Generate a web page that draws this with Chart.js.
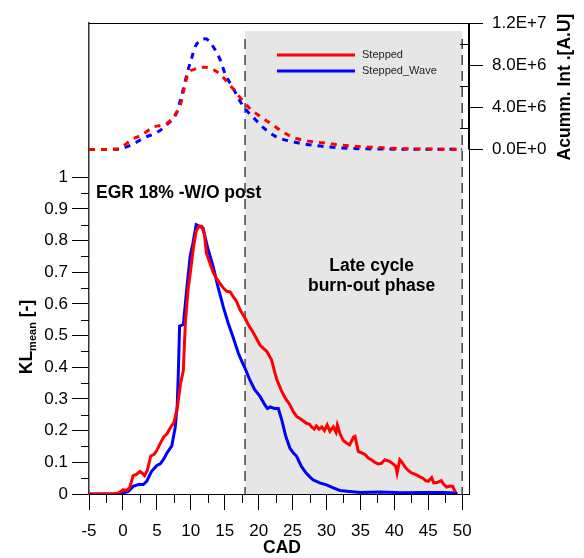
<!DOCTYPE html>
<html>
<head>
<meta charset="utf-8">
<script src="https://cdn.jsdelivr.net/npm/chart.js@4.4.1/dist/chart.umd.min.js"></script>
<style>
  body { margin: 0; background: #fff; }
  #wrap { width: 584px; height: 558px; }
</style>
</head>
<body>
<div id="wrap"><canvas id="chartKL"></canvas></div>
<script>
// KL mean (bottom panel)
const cadRed = [-5, -1, -0.5, 0, 0.6, 1, 1.5, 2, 2.5, 2.9, 3.2, 3.6, 4.1, 4.6, 5, 5.5, 6, 6.5, 7, 7.5, 8, 8.5, 8.9, 9.2, 9.6, 10, 10.4, 10.8, 11.2, 11.6, 12, 12.3, 12.8, 13.3, 13.8, 14.3, 14.8, 15.3, 15.8, 16.2, 16.7, 17.3, 18, 18.6, 19.2, 19.7, 20.2, 20.7, 21.2, 21.9, 22.3, 22.7, 23.4, 24, 24.6, 25.1, 25.6, 26.3, 27, 27.5, 27.8, 28.2, 28.5, 28.9, 29.3, 29.7, 30.1, 30.5, 31, 31.4, 31.6, 32, 32.5, 33, 33.4, 34, 34.2, 34.7, 35.2, 35.7, 36.2, 36.6, 37.1, 37.6, 38.1, 38.6, 39.3, 39.8, 40.2, 40.4, 40.8, 41.2, 41.5, 42, 42.5, 43.1, 43.7, 44.2, 44.6, 45, 45.5, 45.8, 46.3, 46.9, 47.3, 47.7, 48.2, 48.6, 49];
const klRed = [0, 0, 0.005, 0.013, 0.012, 0.02, 0.058, 0.062, 0.071, 0.065, 0.058, 0.075, 0.12, 0.125, 0.138, 0.16, 0.18, 0.19, 0.21, 0.225, 0.27, 0.35, 0.39, 0.54, 0.645, 0.71, 0.78, 0.83, 0.845, 0.845, 0.82, 0.76, 0.73, 0.7, 0.68, 0.665, 0.65, 0.64, 0.638, 0.625, 0.61, 0.58, 0.555, 0.53, 0.51, 0.49, 0.47, 0.46, 0.45, 0.424, 0.39, 0.36, 0.324, 0.3, 0.282, 0.26, 0.245, 0.235, 0.224, 0.22, 0.212, 0.205, 0.215, 0.205, 0.212, 0.2, 0.218, 0.198, 0.212, 0.195, 0.218, 0.19, 0.168, 0.16, 0.155, 0.18, 0.182, 0.134, 0.13, 0.124, 0.113, 0.108, 0.1, 0.095, 0.097, 0.108, 0.103, 0.095, 0.088, 0.066, 0.108, 0.098, 0.087, 0.075, 0.067, 0.062, 0.055, 0.05, 0.042, 0.04, 0.052, 0.035, 0.036, 0.042, 0.03, 0.022, 0.025, 0.024, 0.005];
const cadBlue = [-5, -1.4, -0.5, 0, 0.8, 1.5, 2.3, 3, 3.5, 4.2, 5, 5.5, 6, 6.5, 7.2, 7.7, 8, 8.15, 8.35, 8.9, 9.4, 9.9, 10.3, 10.8, 11.3, 11.8, 12.5, 13.3, 14, 14.8, 15.5, 16.2, 17, 17.7, 18, 18.7, 19.4, 20.2, 20.9, 21.3, 21.7, 22.3, 22.9, 23.4, 24, 24.6, 25.1, 25.6, 26.3, 27, 27.5, 28, 29, 30, 31, 32, 33.4, 35, 38, 41, 44, 47, 48.5, 49.3];
const klBlue = [0, 0, 0.002, 0.003, 0.008, 0.024, 0.03, 0.03, 0.04, 0.071, 0.09, 0.095, 0.11, 0.13, 0.152, 0.21, 0.28, 0.37, 0.53, 0.535, 0.645, 0.75, 0.79, 0.85, 0.845, 0.84, 0.776, 0.718, 0.655, 0.59, 0.54, 0.497, 0.445, 0.41, 0.397, 0.36, 0.33, 0.308, 0.282, 0.27, 0.275, 0.27, 0.27, 0.234, 0.182, 0.145, 0.13, 0.119, 0.087, 0.066, 0.055, 0.045, 0.035, 0.029, 0.019, 0.011, 0.008, 0.005, 0.006, 0.004, 0.005, 0.005, 0.004, 0.002];

// accumulated intensity (top panel)
const cadIntRed = [-5, -1, -0.3, 1.1, 2.85, 4.6, 6.3, 7.8, 8.5, 9, 9.6, 10.5, 11.2, 12, 12.9, 13.8, 14.6, 16.1, 17.3, 18.6, 20.3, 22, 23.6, 25.3, 27.3, 29.5, 31.5, 33.4, 35.4, 37.4, 39.3, 41.3, 45, 50];
const intRed = [0, 0.02e6, 0.15e6, 0.85e6, 1.42e6, 2.15e6, 2.4e6, 3.4e6, 4.3e6, 5.7e6, 7.2e6, 7.6e6, 7.75e6, 7.8e6, 7.7e6, 7.4e6, 6.96e6, 5.85e6, 4.9e6, 3.96e6, 3.1e6, 2.37e6, 1.65e6, 1.1e6, 0.79e6, 0.63e6, 0.47e6, 0.35e6, 0.25e6, 0.19e6, 0.12e6, 0.07e6, 0.04e6, 0.02e6];
const cadIntBlue = [-5, -0.5, -0.1, 1.4, 3.1, 5.1, 6.5, 7.9, 8.5, 9.5, 10, 10.7, 11.5, 12.2, 12.8, 13.4, 14.4, 15.1, 16.1, 17.1, 18.1, 19.5, 21, 22.6, 24.6, 26.6, 28.6, 30.8, 33, 36, 40, 50];
const intBlue = [0, 0.03e6, 0.1e6, 0.47e6, 1.1e6, 1.65e6, 2.37e6, 3.48e6, 4.75e6, 7.3e6, 8.4e6, 9.8e6, 10.4e6, 10.5e6, 10.2e6, 9.65e6, 8.4e6, 7.1e6, 6.0e6, 4.75e6, 3.8e6, 2.85e6, 1.9e6, 1.2e6, 0.79e6, 0.54e6, 0.35e6, 0.22e6, 0.12e6, 0.06e6, 0.03e6, 0.01e6];

const seriesNames = ['Stepped', 'Stepped_Wave'];
const xTicks = [-5, 0, 5, 10, 15, 20, 25, 30, 35, 40, 45, 50];
const yTicks = [0, 0.1, 0.2, 0.3, 0.4, 0.5, 0.6, 0.7, 0.8, 0.9, 1];
const yTickLabels = ['0', '0.1', '0.2', '0.3', '0.4', '0.5', '0.6', '0.7', '0.8', '0.9', '1'];
const y2Ticks = [0, 4e6, 8e6, 1.2e7];
const y2TickLabels = ['0.0E+0', '4.0E+6', '8.0E+6', '1.2E+7'];
const phaseStart = 18;
const phaseEnd = 50;

const RED = '#ff0000';
const BLUE = '#0000ff';
const FONT = '"Liberation Sans", Arial, sans-serif';

const pts = (xs, ys) => xs.map((v, i) => ({ x: v, y: ys[i] }));

const decor = {
  id: 'decor',
  beforeDatasetsDraw(chart) {
    const { ctx, chartArea: a, scales: { x } } = chart;
    const x0 = x.getPixelForValue(phaseStart);
    const x1 = x.getPixelForValue(phaseEnd);
    ctx.save();
    ctx.fillStyle = '#e6e6e6';
    ctx.fillRect(x0, a.top + 8, x1 - x0, a.bottom - a.top - 8);
    ctx.strokeStyle = '#444';
    ctx.lineWidth = 1.5;
    ctx.setLineDash([10, 6]);
    [x0, x1].forEach(px => {
      ctx.beginPath();
      ctx.moveTo(px, a.top + 16);
      ctx.lineTo(px, a.bottom);
      ctx.stroke();
    });
    ctx.restore();
  },
  afterDraw(chart) {
    const { ctx, chartArea: a, scales: { x, y, y2 } } = chart;
    ctx.save();
    ctx.strokeStyle = '#000';
    ctx.lineWidth = 1;
    // frame
    ctx.beginPath();
    ctx.moveTo(a.left, a.top + 0.5);
    ctx.lineTo(a.right, a.top + 0.5);
    ctx.moveTo(a.right + 0.5, a.top);
    ctx.lineTo(a.right + 0.5, a.bottom);
    ctx.stroke();
    ctx.lineWidth = 2;
    ctx.beginPath();
    ctx.moveTo(a.right, a.top);
    ctx.lineTo(a.right, y2.getPixelForValue(0));
    ctx.stroke();

    // minor ticks
    ctx.lineWidth = 1;
    ctx.beginPath();
    for (let i = 0; i < xTicks.length - 1; i++) {
      const px = Math.round(x.getPixelForValue((xTicks[i] + xTicks[i + 1]) / 2)) + 0.5;
      ctx.moveTo(px, a.bottom);
      ctx.lineTo(px, a.bottom + 9);
    }
    for (let i = 0; i < yTicks.length - 1; i++) {
      const py = Math.round(y.getPixelForValue((yTicks[i] + yTicks[i + 1]) / 2)) + 0.5;
      ctx.moveTo(a.left, py);
      ctx.lineTo(a.left - 8, py);
    }
    for (let i = 0; i < y2Ticks.length - 1; i++) {
      const py = Math.round(y2.getPixelForValue((y2Ticks[i] + y2Ticks[i + 1]) / 2)) + 0.5;
      ctx.moveTo(a.right, py);
      ctx.lineTo(a.right - 9, py);
    }
    ctx.stroke();

    // annotations
    ctx.fillStyle = '#000';
    ctx.font = 'bold 17.5px ' + FONT;
    ctx.textBaseline = 'middle';
    ctx.textAlign = 'left';
    ctx.fillText('EGR 18% -W/O post', a.left + 7, 193);
    ctx.textAlign = 'center';
    const cx = (x.getPixelForValue(phaseStart) + x.getPixelForValue(phaseEnd)) / 2 + 18;
    ctx.fillText('Late cycle', cx, 266);
    ctx.fillText('burn-out phase', cx, 286);

    // axis titles
    ctx.fillText('CAD', (a.left + a.right) / 2 + 3, 548);

    ctx.save();
    ctx.translate(565, 87);
    ctx.rotate(-Math.PI / 2);
    ctx.fillText('Acumm. Int .[A.U]', 0, 0);
    ctx.restore();

    ctx.save();
    ctx.translate(32, 337);
    ctx.rotate(-Math.PI / 2);
    ctx.textBaseline = 'alphabetic';
    ctx.textAlign = 'left';
    const big = 'bold 17.5px ' + FONT;
    const small = 'bold 11px ' + FONT;
    ctx.font = big;
    const wKL = ctx.measureText('KL').width;
    const wRest = ctx.measureText(' [-]').width;
    ctx.font = small;
    const wSub = ctx.measureText('mean').width;
    let sx = -(wKL + wSub + wRest) / 2;
    ctx.font = big;
    ctx.fillText('KL', sx, 0);
    sx += wKL;
    ctx.font = small;
    ctx.fillText('mean', sx, 4);
    sx += wSub;
    ctx.font = big;
    ctx.fillText(' [-]', sx, 0);
    ctx.restore();

    // legend
    const colors = [RED, BLUE];
    ctx.font = '11px ' + FONT;
    ctx.textAlign = 'left';
    ctx.textBaseline = 'middle';
    seriesNames.forEach((name, i) => {
      const ly = 55 + i * 16;
      ctx.strokeStyle = colors[i];
      ctx.lineWidth = 3;
      ctx.beginPath();
      ctx.moveTo(277, ly);
      ctx.lineTo(355, ly);
      ctx.stroke();
      ctx.fillStyle = '#222';
      ctx.fillText(name, 362, ly);
    });
    ctx.restore();
  }
};

new Chart(document.getElementById('chartKL'), {
  type: 'line',
  data: {
    datasets: [
      { label: seriesNames[0], data: pts(cadRed, klRed), yAxisID: 'y', borderColor: RED, borderWidth: 3, pointRadius: 0, tension: 0 },
      { label: seriesNames[1], data: pts(cadBlue, klBlue), yAxisID: 'y', borderColor: BLUE, borderWidth: 3, pointRadius: 0, tension: 0 },
      { label: seriesNames[0] + ' int', data: pts(cadIntRed, intRed), yAxisID: 'y2', borderColor: RED, borderWidth: 3, borderDash: [6, 6], pointRadius: 0, cubicInterpolationMode: 'monotone' },
      { label: seriesNames[1] + ' int', data: pts(cadIntBlue, intBlue), yAxisID: 'y2', borderColor: BLUE, borderWidth: 3, borderDash: [6, 6], pointRadius: 0, cubicInterpolationMode: 'monotone' }
    ]
  },
  options: {
    responsive: true,
    maintainAspectRatio: false,
    animation: false,
    layout: { padding: { top: 23, left: 0, right: 0, bottom: 0 } },
    plugins: { legend: { display: false }, tooltip: { enabled: false } },
    scales: {
      x: {
        type: 'linear',
        min: -5,
        max: 51,
        afterBuildTicks: s => { s.ticks = xTicks.map(v => ({ value: v })); },
        afterFit: s => { s.height = 64; },
        grid: { drawOnChartArea: false, drawTicks: true, tickLength: 16, color: '#000' },
        border: { display: true, color: '#000', width: 1 },
        ticks: { color: '#000', font: { family: FONT, size: 17 }, padding: 11, maxRotation: 0 }
      },
      y: {
        position: 'left',
        min: 0,
        max: 1.487,
        afterBuildTicks: s => { s.ticks = yTicks.map(v => ({ value: v })); },
        afterFit: s => { s.width = 89; },
        grid: { drawOnChartArea: false, drawTicks: true, tickLength: 17, color: '#000' },
        border: { display: true, color: '#333', width: 1.5 },
        ticks: { color: '#000', font: { family: FONT, size: 17 }, padding: 4, callback: (v, i) => yTickLabels[i] }
      },
      y2: {
        position: 'right',
        min: -3.269e7,
        max: 1.2e7,
        afterBuildTicks: s => { s.ticks = y2Ticks.map(v => ({ value: v })); },
        afterFit: s => { s.width = 115; },
        grid: { drawOnChartArea: false, drawTicks: true, tickLength: 14, color: '#000' },
        border: { display: false },
        ticks: { color: '#000', font: { family: FONT, size: 17 }, padding: 9, callback: (v, i) => y2TickLabels[i] }
      }
    }
  },
  plugins: [decor]
});
</script>
</body>
</html>
